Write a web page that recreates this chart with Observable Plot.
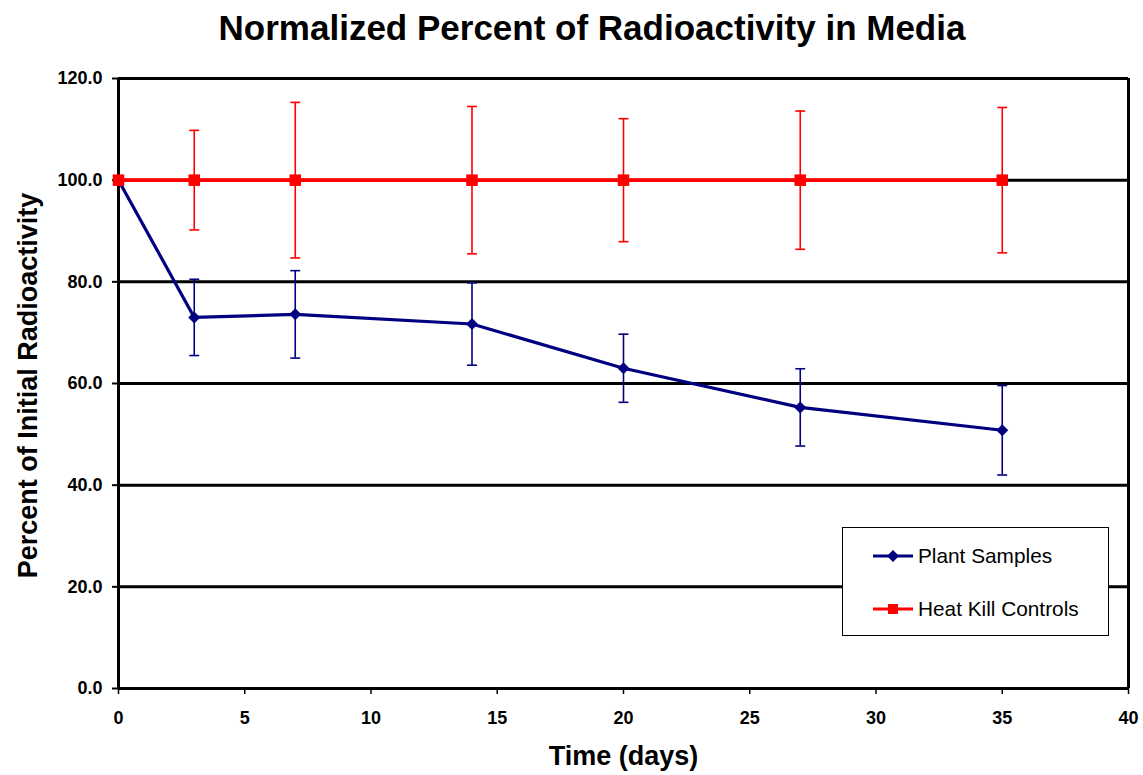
<!DOCTYPE html>
<html>
<head>
<meta charset="utf-8">
<script src="https://cdn.jsdelivr.net/npm/d3@7"></script>
<script src="https://cdn.jsdelivr.net/npm/@observablehq/plot@0.6"></script>
<style>
  body { margin: 0; background: #fff; font-family: "Liberation Sans", Arial, sans-serif; }
  #wrap { position: relative; width: 1143px; height: 775px; }
  #title { position: absolute; left: 0; top: 8px; width: 1184px; text-align: center; font-weight: bold; font-size: 35px; color: #000; }
  #legend { position: absolute; left: 842px; top: 527px; width: 267px; height: 109px; border: 1px solid #000; background: #fff; box-sizing: border-box; }
  .item { position: absolute; left: 30px; height: 24px; font-size: 20.8px; display: flex; align-items: center; white-space: nowrap; }
  .item svg { margin-right: 5px; }
</style>
</head>
<body>
<div id="wrap">
  <div id="chart"></div>
  <div id="title">Normalized Percent of Radioactivity in Media</div>
  <div id="legend"></div>
</div>
<script>
const days = [0, 3, 7, 14, 20, 27, 35];
const plantMean = [100, 73.0, 73.6, 71.7, 63.0, 55.3, 50.8];
const plantErr  = [0, 7.5, 8.6, 8.1, 6.7, 7.6, 8.8];
const heatMean  = [100, 100, 100, 100, 100, 100, 100];
const heatErr   = [0, 9.8, 15.3, 14.5, 12.1, 13.6, 14.3];
const seriesNames = ["Plant Samples", "Heat Kill Controls"];
const seriesColors = ["#000080", "#FF0000"];
const yTicks = [0, 20, 40, 60, 80, 100, 120];
const xTicks = [0, 5, 10, 15, 20, 25, 30, 35, 40];

const plant = days.map((d, i) => ({x: d, y: plantMean[i], e: plantErr[i]}));
const heat = days.map((d, i) => ({x: d, y: heatMean[i], e: heatErr[i]}));

const capSymbol = {
  draw(ctx, size) {
    const w = Math.sqrt(size) / 2;
    ctx.moveTo(-w, 0);
    ctx.lineTo(w, 0);
  }
};

function errorMarks(data, color) {
  const withErr = data.filter(d => d.e > 0);
  return [
    Plot.ruleX(withErr, {x: "x", y1: d => d.y - d.e, y2: d => d.y + d.e, stroke: color, strokeWidth: 1.6}),
    Plot.dot(withErr, {x: "x", y: d => d.y + d.e, symbol: capSymbol, r: 5.6, stroke: color, strokeWidth: 1.6, fill: "none"}),
    Plot.dot(withErr, {x: "x", y: d => d.y - d.e, symbol: capSymbol, r: 5.6, stroke: color, strokeWidth: 1.6, fill: "none"})
  ];
}

const chart = Plot.plot({
  width: 1143,
  height: 775,
  marginTop: 78,
  marginBottom: 87,
  marginLeft: 118,
  marginRight: 15,
  style: {fontFamily: "'Liberation Sans', Arial, sans-serif", background: "#fff", color: "#000"},
  x: {domain: [0, 40], ticks: xTicks},
  y: {domain: [0, 120], ticks: yTicks},
  marks: [
    Plot.ruleY(yTicks, {stroke: "#000", strokeWidth: 3}),
    Plot.ruleX([0, 40], {stroke: "#000", strokeWidth: 3}),
    Plot.axisY({ticks: yTicks, tickFormat: d3.format(".1f"), tickSize: 6, tickPadding: 10, fontSize: 18, fontWeight: "bold", label: null, strokeWidth: 2}),
    Plot.axisX({ticks: xTicks, tickFormat: d => d, tickSize: 6, tickPadding: 17, fontSize: 18, fontWeight: "bold", label: null, strokeWidth: 1.5}),
    Plot.text(["Percent of Initial Radioactivity"], {frameAnchor: "left", dx: -90, dy: 2, rotate: -90, textAnchor: "middle", fontSize: 27, fontWeight: "bold"}),
    Plot.text(["Time (days)"], {frameAnchor: "bottom", dy: 76, fontSize: 27, fontWeight: "bold"}),
    ...errorMarks(plant, seriesColors[0]),
    Plot.line(plant, {x: "x", y: "y", stroke: seriesColors[0], strokeWidth: 3.2}),
    Plot.dot(plant, {x: "x", y: "y", symbol: "diamond2", r: 5.4, fill: seriesColors[0], stroke: "none"}),
    ...errorMarks(heat, seriesColors[1]),
    Plot.line(heat, {x: "x", y: "y", stroke: seriesColors[1], strokeWidth: 3.6}),
    Plot.dot(heat, {x: "x", y: "y", symbol: "square", r: 6.5, fill: seriesColors[1], stroke: "none"})
  ]
});
document.getElementById("chart").appendChild(chart);

// Legend
const legend = document.getElementById("legend");
seriesNames.forEach((name, i) => {
  const item = document.createElement("div");
  item.className = "item";
  item.style.top = (i === 0 ? 16 : 69) + "px";
  const marker = i === 0
    ? '<path d="M20,5 L26,11 L20,17 L14,11 Z" fill="' + seriesColors[i] + '"/>'
    : '<rect x="15" y="6" width="10" height="10" fill="' + seriesColors[i] + '"/>';
  item.innerHTML = '<svg width="40" height="22"><line x1="0" x2="40" y1="11" y2="11" stroke="' + seriesColors[i] + '" stroke-width="3"/>' + marker + '</svg><span>' + name + '</span>';
  legend.appendChild(item);
});
</script>
</body>
</html>
